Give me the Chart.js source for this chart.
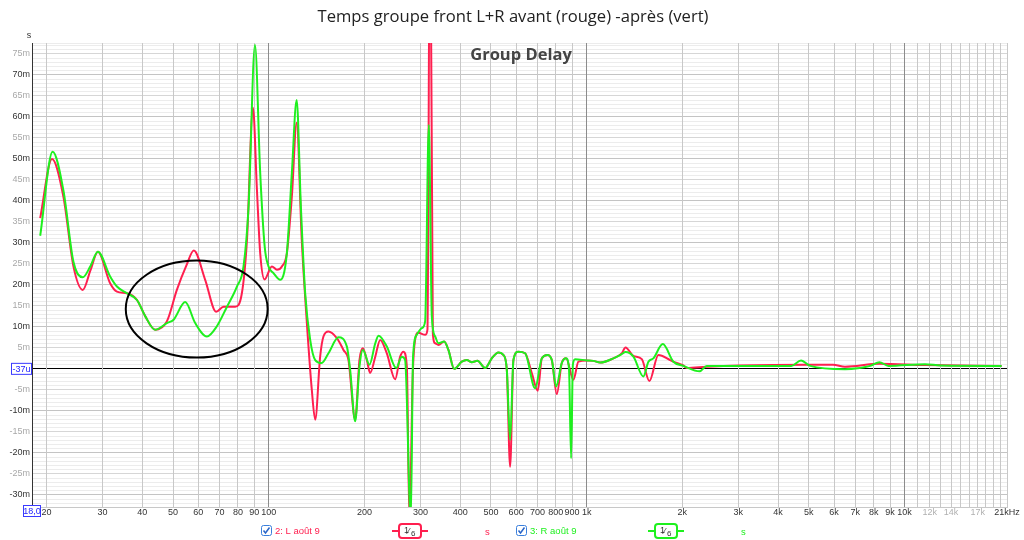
<!DOCTYPE html>
<html>
<head>
<meta charset="utf-8">
<script src="https://cdn.jsdelivr.net/npm/chart.js@4.4.1/dist/chart.umd.min.js"></script>
<style>
  html, body { margin: 0; padding: 0; background: #fff; }
  #wrap { width: 1024px; height: 540px; }
</style>
</head>
<body>
<div id="wrap"><canvas id="gd" width="1024" height="540"></canvas></div>
<script>
// group delay, values in ms, frequencies in Hz
const freqL = [19.1, 20.8, 22.6, 24.3, 26.0, 27.5, 29.0, 31.7, 33.3, 35.8, 38.5, 40.9, 43.9, 47.8, 51.4, 55.0, 58.1, 63.1, 68.3, 72.1,
  78.4, 82.3, 85.4, 89.2, 91.8, 94.0, 97.0, 102.3, 106.1, 110, 114, 118.2, 122.4, 127, 131.8, 136.6, 140, 145.1, 148.6, 154.1,
  163.8, 171.8, 178.1, 187, 192.9, 197.7, 203.5, 208.4, 216.3, 224.1, 235.2, 249.8, 259, 265.3, 271.9, 277, 283.9, 288.6, 295.6, 310.4,
  315.6, 321.8, 328.2, 333.8, 341.8, 356.2, 367.4, 383, 404.8, 419.8, 435.2, 453.2, 479.4, 503, 527.8, 547.2, 560.8, 574.4, 588.4, 610,
  640.4, 672, 702, 722.8, 752.6, 777, 805.4, 835.2, 861.6, 908.4, 942, 1001, 1050, 1102, 1213, 1289, 1325, 1403, 1491, 1575,
  1681, 1830, 1874, 2014, 2064, 2386, 3038, 4900, 5956, 6496, 8330, 11596, 20200];
const delayL = [35.9, 50.0, 41.0, 24.4, 18.8, 23.5, 27.9, 20.4, 18.4, 18.0, 16.4, 12.5, 9.3, 11.3, 18.8, 24.5, 28.2, 21.2, 13.6, 14.8,
  14.8, 18.0, 30.7, 62.2, 42.6, 27.5, 21.3, 24.4, 23.6, 24.4, 27.5, 41, 58.6, 30.7, 10.9, -5, -12.1, 2.9, 7.7, 8.9,
  7.3, 4.5, 2.1, -12.1, 2.1, 4.9, 2.1, -1, 2.9, 6.9, 3.7, -2.5, 2.9, 4.1, 0.5, -36, -1, 6.9, 8.6, 8.1,
  9.3, 120, 8.5, 6.1, 5.7, 6.5, 4.5, 0, 1.7, 2.1, 1.6, 1.9, 0.2, 2.5, 3.9, 3.3, -0.2, -23.3, 2.1, 4.1,
  3.7, -1, -5.2, 2.5, 3.3, 2.1, -6, 1.4, 2.5, -2.6, 1.7, 2.0, 1.9, 1.5, 2.5, 3.7, 5.1, 3.1, 2.3, -2.9,
  3.3, 2.1, 1.7, 0.8, 0.2, 0.5, 0.8, 1.0, 1.0, 0.5, 1.2, 0.9, 0.7];

const freqR = [19.1, 20.9, 22.6, 24.3, 26.0, 27.5, 29.0, 31.7, 33.3, 35.8, 38.5, 40.9, 43.9, 47.8, 50.2, 54.6, 58.7, 63.9, 68.6, 73.9,
  79.4, 83.3, 86.4, 90.5, 94.0, 97.1, 99.8, 103.5, 108.6, 114, 118.2, 122.4, 126.2, 130.2, 135, 140, 146.8, 154.1, 165.7, 176.1,
  180.3, 187, 192.9, 197.7, 207.4, 216.3, 221.4, 235.2, 251.7, 262.2, 268.5, 279.8, 284.4, 292.2, 303, 310.4, 318.8, 325.8, 333.8, 341.8,
  356.2, 367.4, 383, 404.8, 419.8, 435.2, 453.2, 479.4, 503, 527.8, 547.2, 560.8, 574.4, 588.4, 610, 640.4, 688.4, 722.8, 752.6, 777,
  801.6, 835.2, 861.6, 880, 893.4, 905, 919.6, 1001, 1050, 1102, 1213, 1289, 1325, 1403, 1508, 1564, 1621, 1736, 1874, 2014,
  2266, 2386, 3038, 4400, 4724, 5050, 6496, 7800, 8330, 8900, 11596, 13000, 20200];
const delayR = [31.7, 51.7, 42.5, 25.5, 21.8, 24.5, 27.9, 22, 19.6, 18.0, 16.4, 12.5, 9.3, 10.9, 11.7, 15.9, 10.9, 7.7, 10.1, 14.8,
  19.6, 24.4, 38.6, 77.1, 46.6, 29.1, 24.4, 22.8, 21.2, 27.5, 46.6, 64, 38.6, 18, 6.9, 2.1, 1.4, 3.7, 7.5, 5.3,
  -0.2, -12.5, 0.5, 4.5, 1.0, 6.1, 7.9, 5.3, 0.2, 2.9, 2.1, -36, 2.9, 8.1, 9.7, 11.3, 58.1, 12.5, 7.7, 6.1,
  6.5, 4.5, 0, 1.7, 2.1, 1.6, 1.9, 0.2, 2.5, 3.9, 3.3, -0.2, -16.9, 2.1, 4.1, 3.7, -4.6, 2.5, 3.3, 2.1,
  -4.2, 1.4, 2.5, 0, -21.3, 1, 2.3, 2.0, 1.9, 1.5, 2.5, 3.5, 4.0, 2.9, -1.8, 1.7, 2.5, 5.9, 1.7, 0.7,
  -0.6, 0.7, 0.7, 0.7, 2.0, 0.7, -0.1, 0.7, 1.6, 0.7, 1.1, 0.8, 0.7];

const xTicks = [20, 30, 40, 50, 60, 70, 80, 90, 100, 200, 300, 400, 500, 600, 700, 800, 900,
  1000, 2000, 3000, 4000, 5000, 6000, 7000, 8000, 9000, 10000, 11000, 12000, 13000, 14000, 15000,
  16000, 17000, 18000, 19000, 20000, 21000];
const xLabels = ['20', '30', '40', '50', '60', '70', '80', '90', '100', '200', '300', '400', '500', '600', '700', '800', '900',
  '1k', '2k', '3k', '4k', '5k', '6k', '7k', '8k', '9k', '10k', '', '12k', '', '14k', '',
  '', '17k', '', '', '', '21kHz'];
const faintXLabels = ['12k', '14k', '17k'];
const yMinMs = -32.9, yMaxMs = 77.6;

// hand-drawn ring around the 40-90 Hz zone
const ringHz = [35.5, 99.2];
const ringMs = [2.7, 25.8];

const RED = '#ff1f4f';
const GREEN = '#1ef01e';
const FONT = '"Open Sans", "Noto Sans", sans-serif';
const SMALL = '"Liberation Sans", Arial, sans-serif';

function pts(fs, vs) {
    return fs.map((f, i) => ({ x: f, y: vs[i] }));
}

function drawCheckbox(ctx, x, y) {
    ctx.save();
    ctx.fillStyle = '#fff';
    ctx.strokeStyle = '#3a7fdc';
    ctx.lineWidth = 1;
    ctx.beginPath();
    ctx.roundRect(x + 0.5, y + 0.5, 10, 10, 2);
    ctx.fill();
    ctx.stroke();
    ctx.strokeStyle = '#2a66c8';
    ctx.lineWidth = 1.5;
    ctx.beginPath();
    ctx.moveTo(x + 2.5, y + 5.5);
    ctx.lineTo(x + 4.5, y + 8);
    ctx.lineTo(x + 8.5, y + 2.5);
    ctx.stroke();
    ctx.restore();
}

function drawLineSample(ctx, x, y, color) {
    ctx.save();
    ctx.strokeStyle = color;
    ctx.lineWidth = 2;
    ctx.beginPath();
    ctx.moveTo(x, y);
    ctx.lineTo(x + 36, y);
    ctx.stroke();
    ctx.fillStyle = '#fff';
    ctx.beginPath();
    ctx.roundRect(x + 7, y - 7, 22, 14, 3);
    ctx.fill();
    ctx.stroke();
    ctx.fillStyle = '#333';
    ctx.textBaseline = 'alphabetic';
    ctx.font = '9px ' + SMALL;
    ctx.textAlign = 'left';
    ctx.fillText('1', x + 12, y + 2);
    ctx.fillText('\u2044', x + 16, y + 3);
    ctx.font = '8px ' + SMALL;
    ctx.fillText('6', x + 19, y + 5);
    ctx.restore();
}

function boxedLabel(ctx, text, x, y, w, h) {
    ctx.save();
    ctx.fillStyle = '#fff';
    ctx.fillRect(x, y, w, h);
    ctx.strokeStyle = '#3a3aff';
    ctx.lineWidth = 1;
    ctx.strokeRect(x + 0.5, y + 0.5, w - 1, h - 1);
    ctx.fillStyle = '#2424ff';
    ctx.font = '9px ' + SMALL;
    ctx.textAlign = 'center';
    ctx.textBaseline = 'middle';
    ctx.fillText(text, x + w / 2, y + h / 2 + 0.5);
    ctx.restore();
}

const overlay = {
    id: 'overlay',
    afterDraw(chart) {
        const ctx = chart.ctx;
        const xs = chart.scales.x, ys = chart.scales.y;

        // title
        ctx.save();
        ctx.fillStyle = '#222';
        ctx.font = '16.6px ' + FONT;
        ctx.textAlign = 'center';
        ctx.textBaseline = 'middle';
        ctx.fillText('Temps groupe front L+R avant (rouge) -après (vert)', 513, 17);

        ctx.fillStyle = '#444';
        ctx.font = 'bold 16.5px ' + FONT;
        ctx.fillText('Group Delay', 521, 55);

        ctx.fillStyle = '#333';
        ctx.font = '9px ' + SMALL;
        ctx.fillText('s', 29, 36);
        ctx.restore();

        // ring
        const x1 = xs.getPixelForValue(ringHz[0]), x2 = xs.getPixelForValue(ringHz[1]);
        const y1 = ys.getPixelForValue(ringMs[1]), y2 = ys.getPixelForValue(ringMs[0]);
        ctx.save();
        ctx.strokeStyle = '#000';
        ctx.lineWidth = 2;
        ctx.beginPath();
        ctx.ellipse((x1 + x2) / 2, (y1 + y2) / 2, (x2 - x1) / 2, (y2 - y1) / 2, 0, 0, Math.PI * 2);
        ctx.stroke();
        ctx.restore();

        // cursor readouts
        boxedLabel(ctx, '-37u', 11, ys.getPixelForValue(0) - 6, 21, 12);
        boxedLabel(ctx, '18,0', 23, 505, 18, 12);

        // legend
        ctx.save();
        ctx.font = '9.5px ' + SMALL;
        ctx.textBaseline = 'middle';
        ctx.textAlign = 'left';
        drawCheckbox(ctx, 261, 525);
        ctx.fillStyle = RED;
        ctx.fillText('2: L août 9', 275, 531);
        drawLineSample(ctx, 392, 531, RED);
        ctx.fillStyle = RED;
        ctx.fillText('s', 485, 532);

        drawCheckbox(ctx, 516, 525);
        ctx.fillStyle = GREEN;
        ctx.fillText('3: R août 9', 530, 531);
        drawLineSample(ctx, 648, 531, GREEN);
        ctx.fillStyle = GREEN;
        ctx.fillText('s', 741, 532);
        ctx.restore();
    }
};

new Chart(document.getElementById('gd'), {
    type: 'line',
    data: {
        datasets: [
            { label: '2: L août 9', data: pts(freqL, delayL), borderColor: RED, borderWidth: 2, order: 1 },
            { label: '3: R août 9', data: pts(freqR, delayR), borderColor: GREEN, borderWidth: 2, order: 0 }
        ]
    },
    options: {
        responsive: false,
        animation: false,
        devicePixelRatio: 1,
        parsing: false,
        layout: { padding: { left: 0, right: 17, top: 43, bottom: 0 } },
        elements: { point: { radius: 0 }, line: { cubicInterpolationMode: 'monotone' } },
        plugins: { legend: { display: false }, title: { display: false }, tooltip: { enabled: false } },
        scales: {
            x: {
                type: 'logarithmic',
                min: 18,
                max: 21000,
                afterBuildTicks: s => { s.ticks = xTicks.map(v => ({ value: v })); },
                afterFit: s => { s.height = 33; },
                border: { color: '#c8c8c8' },
                grid: {
                    z: -1,
                    drawTicks: false,
                    color: c => {
                        const v = c.tick && c.tick.value;
                        return (v === 100 || v === 1000 || v === 10000) ? '#8c8c8c' : '#c8c8c8';
                    }
                },
                ticks: {
                    autoSkip: false,
                    maxRotation: 0,
                    padding: 0,
                    font: { family: SMALL, size: 9 },
                    color: c => faintXLabels.includes(xLabels[c.index]) ? '#b0b0b0' : '#333',
                    callback: (v, i) => xLabels[i]
                }
            },
            y: {
                min: yMinMs,
                max: yMaxMs,
                afterBuildTicks: s => {
                    const t = [{ value: yMinMs }];
                    for (let v = -32; v <= 77; v++) t.push({ value: v });
                    t.push({ value: yMaxMs });
                    s.ticks = t;
                },
                afterFit: s => { s.width = 32; },
                border: { color: '#333' },
                grid: {
                    z: -2,
                    drawTicks: false,
                    color: c => {
                        const v = c.tick && c.tick.value;
                        if (v === 0) return '#000';
                        if (v % 10 === 0) return '#c4c4c4';
                        if (v % 5 === 0) return '#d6d6d6';
                        return '#ececec';
                    }
                },
                ticks: {
                    autoSkip: false,
                    padding: 2,
                    font: { family: SMALL, size: 9 },
                    color: c => (c.tick.value % 10 === 0) ? '#333' : '#a8a8a8',
                    callback: v => (Number.isInteger(v) && v % 5 === 0 && v !== 0) ? v + 'm' : ''
                }
            }
        }
    },
    plugins: [overlay]
});
</script>
</body>
</html>
